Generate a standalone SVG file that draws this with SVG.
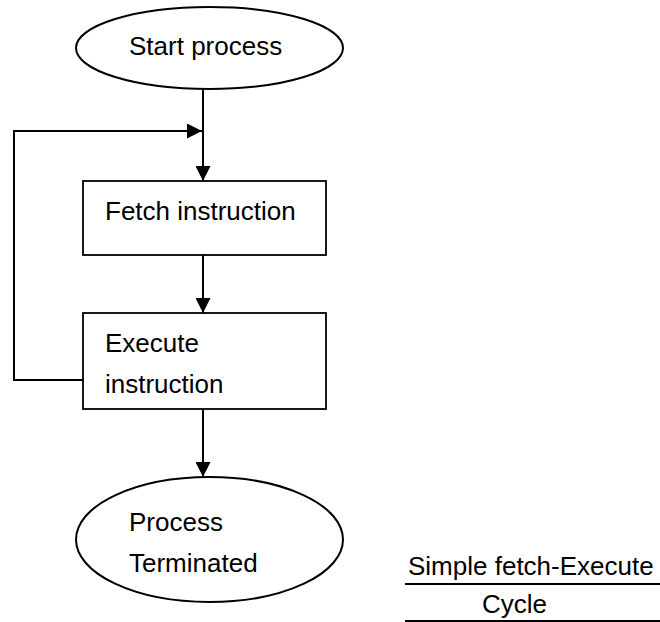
<svg xmlns="http://www.w3.org/2000/svg" width="660" height="622" viewBox="0 0 660 622">
<style>
.shape{fill:#fff;stroke:#000;stroke-width:2}
.box{fill:#fff;stroke:#000;stroke-width:1.8}
.lbl{font-family:"Liberation Sans",Arial,sans-serif;font-size:26px;fill:#000}
.conn{fill:none;stroke:#000;stroke-width:2}
</style>
<defs>
<marker id="arr" viewBox="0 0 15 15" refX="15" refY="7.5" markerWidth="15" markerHeight="15" markerUnits="userSpaceOnUse" orient="auto">
<path d="M0 0 L15 7.5 L0 15 z" fill="#000"/>
</marker>
</defs>
<rect width="660" height="622" fill="#fff"/>
<g id="connectors">
<path class="conn" d="M203 89 V181" marker-end="url(#arr)"/>
<path class="conn" d="M203 255 V313" marker-end="url(#arr)"/>
<path class="conn" d="M203 409 V477" marker-end="url(#arr)"/>
<path class="conn" d="M83 380 H14 V131 H202" marker-end="url(#arr)"/>
</g>
<g id="start">
<ellipse class="shape" cx="209.5" cy="48" rx="133.5" ry="41"/>
<text class="lbl" x="129" y="55">Start process</text>
</g>
<g id="fetch">
<rect class="box" x="83" y="181" width="243" height="74"/>
<text class="lbl" x="105" y="220">Fetch instruction</text>
</g>
<g id="execute">
<rect class="box" x="83" y="313" width="243" height="96"/>
<text class="lbl" x="105" y="352">Execute</text>
<text class="lbl" x="105" y="393">instruction</text>
</g>
<g id="terminated">
<ellipse class="shape" cx="209.5" cy="539.5" rx="133.5" ry="62.5"/>
<text class="lbl" x="129" y="531">Process</text>
<text class="lbl" x="129" y="572">Terminated</text>
</g>
<g id="caption">
<text class="lbl" x="408" y="575">Simple fetch-Execute</text>
<line x1="405" y1="584" x2="660" y2="584" stroke="#000" stroke-width="2"/>
<text class="lbl" x="482" y="613">Cycle</text>
<line x1="405" y1="621" x2="660" y2="621" stroke="#000" stroke-width="2"/>
</g>
</svg>
